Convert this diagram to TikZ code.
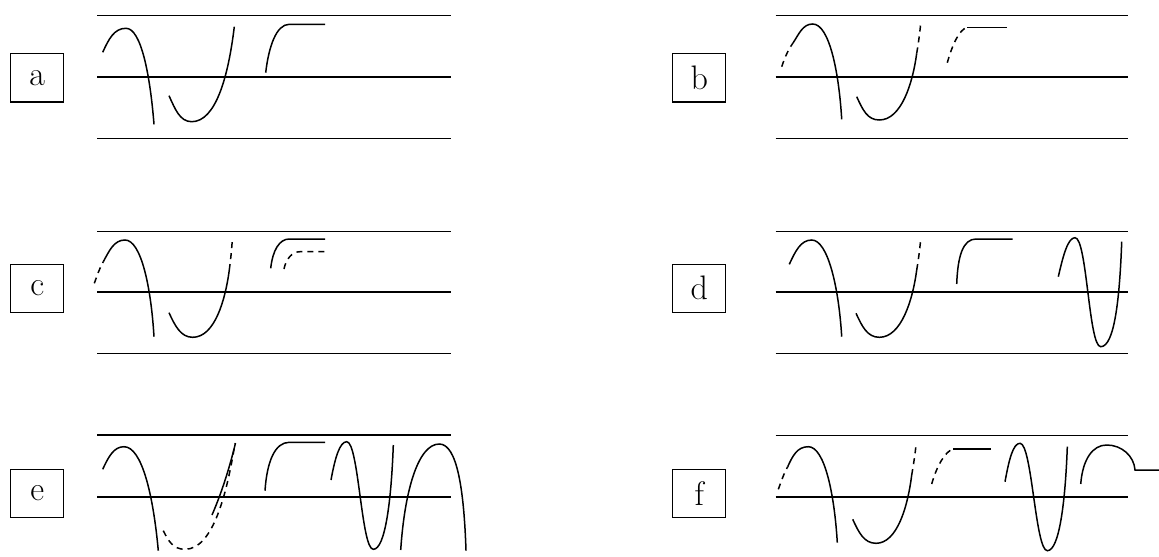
\documentclass[tikz,border=0pt]{standalone}
\usetikzlibrary{positioning}

\begin{document}
\begin{tikzpicture}[
  x=0.5pt,y=-0.5pt,
  tag/.style={draw,line width=0.6pt,minimum width=26.5pt,minimum height=24pt,inner sep=0pt,font=\fontsize{17}{20}\selectfont},
  staff/.style={line width=0.55pt},
  stroke/.style={line width=0.75pt},
  broken/.style={stroke,dash pattern=on 3pt off 2.5pt}
]
\useasboundingbox (0,0) rectangle (1159,556);

% panel a
\node[tag] (taga) at (37.2,77.9) {a};
\draw[staff] (97,15.7) -- (451,15.7) (97,77) -- (451,77) (97,138.7) -- (451,138.7);
\draw[stroke] (102.7,52.3) .. controls +(6,-13) and +(-12,0) .. (126,28.3) .. controls +(15,0) and +(-4,-50) .. (154,124.3);
\draw[stroke] (169,95.7) .. controls +(6,13) and +(-12,0) .. (191.7,121.7) .. controls +(24,0) and +(-6,50) .. (234.3,26.7);
\draw[stroke] (265.7,72.7) .. controls +(3,-26) and +(-13,0) .. (289.3,24.3) -- (325,24.3);

% panel b
\node[tag] (tagb) at (699.2,77.9) {b};
\draw[staff] (775.7,15.7) -- (1128.3,15.7) (775.7,77) -- (1128.3,77) (775.7,138.7) -- (1128.3,138.7);
\draw[broken] (781.7,66.7) .. controls +(3,-9) and +(-5,7) .. (793,43);
\draw[stroke] (793,43) .. controls +(6,-9) and +(-10,0) .. (812.7,24) .. controls +(16,0) and +(-3,-50) .. (841.7,119.3);
\draw[stroke] (856.7,96.7) .. controls +(6,13) and +(-12,0) .. (879.3,120) .. controls +(22,0) and +(-4,30) .. (916.7,53.3);
\draw[broken] (916.7,53.3) .. controls +(2,-12) and +(-1,10) .. (920.7,23.3);
\draw[broken] (947.3,62.7) .. controls +(5,-18) and +(-8,2) .. (967.3,27.3);
\draw[stroke] (967.3,27.3) -- (1006.7,27.3);

% panel c
\node[tag] (tagc) at (37.3,288.5) {c};
\draw[staff] (97,231.3) -- (451,231.3) (97,292) -- (451,292) (97,353.7) -- (451,353.7);
\draw[broken] (94.3,283.3) .. controls +(3,-8) and +(-4,7) .. (103.3,261.7);
\draw[stroke] (103.3,261.7) .. controls +(6,-11) and +(-11,0) .. (125,240) .. controls +(16,0) and +(-3,-50) .. (154,336.7);
\draw[stroke] (169,312.7) .. controls +(6,13) and +(-12,0) .. (192.7,337.3) .. controls +(22,0) and +(-4,30) .. (229.3,270);
\draw[broken] (229.3,270) .. controls +(1.5,-12) and +(-0.5,10) .. (232.3,239);
\draw[stroke] (270.7,268.3) .. controls +(2,-18) and +(-10,0) .. (289.3,239) -- (325,239);
\draw[broken] (284,269) .. controls +(2,-10) and +(-8,0) .. (300,251.7) -- (327.3,251.7);

% panel d
\node[tag] (tagd) at (699.2,288.3) {d};
\draw[staff] (775.7,231.3) -- (1128.3,231.3) (775.7,292) -- (1128.3,292) (775.7,353.7) -- (1128.3,353.7);
\draw[stroke] (789.3,264.3) .. controls +(6,-13) and +(-11,0) .. (811.7,240) .. controls +(16,0) and +(-3,-50) .. (841.7,336.7);
\draw[stroke] (856,313.3) .. controls +(6,13) and +(-12,0) .. (879.3,337.3) .. controls +(22,0) and +(-4,30) .. (916.7,270);
\draw[broken] (916.7,270) .. controls +(2,-12) and +(-1,10) .. (920.7,239.3);
\draw[stroke] (956.7,284) .. controls +(1,-28) and +(-13,0) .. (976,239) -- (1012.7,239);
\draw[stroke] (1058.3,276.7) .. controls +(5,-22) and +(-7,0) .. (1075,237.7) .. controls +(12,0) and +(-12,0) .. (1100.7,346.7) .. controls +(14,0) and +(-2,55) .. (1121.7,241.7);

% panel e
\node[tag] (tage) at (37.3,493.3) {e};
\draw[staff] (97.3,435) -- (450.7,435) (97.3,497) -- (450.7,497);
\draw[stroke] (102.7,469.3) .. controls +(6,-13) and +(-10,0) .. (124,446.7) .. controls +(18,0) and +(-5,-55) .. (158.3,550.7);
\draw[broken] (163.3,530.7) .. controls +(5,10) and +(-12,0) .. (185,549.3) .. controls +(28,0) and +(-8,50) .. (235,443.3);
\draw[stroke] (212,515) .. controls (222,492) and (230,466) .. (235.5,443);
\draw[stroke] (265,490.7) .. controls +(2,-30) and +(-14,0) .. (289.3,442.3) -- (325,442.3);
\draw[stroke] (331,480) .. controls +(4,-22) and +(-7,0) .. (346.7,441.7) .. controls +(12,0) and +(-12,0) .. (373.3,549.3) .. controls +(12,0) and +(-2,55) .. (393.3,445);
\draw[stroke] (400.7,550) .. controls +(4,-60) and +(-21,0) .. (439.3,444) .. controls +(18,0) and +(-2,-60) .. (466,550.7);

% panel f
\node[tag] (tagf) at (699.2,493.3) {f};
\draw[staff] (775.7,435.3) -- (1128.3,435.3) (775.7,497) -- (1128.3,497);
\draw[broken] (778.3,489.3) .. controls +(3,-8) and +(-4,7) .. (787.7,466.7);
\draw[stroke] (787.7,466.7) .. controls +(5,-11) and +(-11,0) .. (808.3,446.7) .. controls +(16,0) and +(-3,-50) .. (837.3,542.7);
\draw[stroke] (852.7,519.3) .. controls +(6,13) and +(-12,0) .. (876,543.3) .. controls +(21,0) and +(-4,32) .. (911.7,475);
\draw[broken] (911.7,475) .. controls +(2,-12) and +(-1,10) .. (916,445);
\draw[broken] (931.7,484) .. controls +(5,-18) and +(-8,2) .. (953.3,449);
\draw[stroke] (953.3,449) -- (990.7,449);
\draw[stroke] (1005,481.7) .. controls +(4,-22) and +(-7,0) .. (1020,443.3) .. controls +(12,0) and +(-12,0) .. (1047.3,550.7) .. controls +(12,0) and +(-2,55) .. (1067.3,446.7);
\draw[stroke] (1080.7,484) .. controls +(2,-25) and +(-14,0) .. (1106.7,445) .. controls +(15,0) and +(-1,-14) .. (1135,470) -- (1159,470);
\end{tikzpicture}
\end{document}
